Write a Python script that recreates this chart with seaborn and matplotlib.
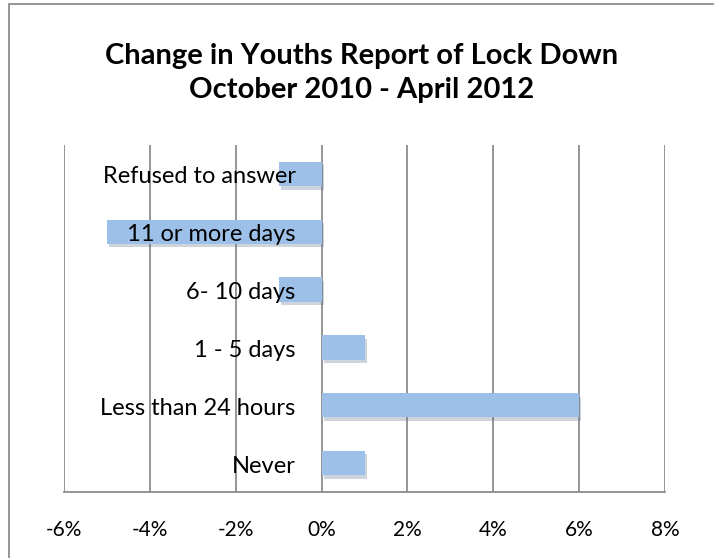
import matplotlib
matplotlib.use("Agg")
import matplotlib.pyplot as plt
import matplotlib.patheffects as pe
from matplotlib.transforms import offset_copy
from matplotlib.patches import Rectangle
from matplotlib.ticker import FuncFormatter
import seaborn as sns
import pandas as pd

categories = ["Refused to answer", "11 or more days", "6- 10 days",
              "1 - 5 days", "Less than 24 hours", "Never"]
changes = [-1, -5, -1, 1, 6, 1]
x_ticks = [-6, -4, -2, 0, 2, 4, 6, 8]
title = "Change in Youths Report of Lock Down\nOctober 2010 - April 2012"

sns.set_theme(style="white")
plt.rcParams['font.family'] = ['Lato', 'DejaVu Sans']

W, H = 714, 558
fig = plt.figure(figsize=(W / 100, H / 100), dpi=100)
ax = fig.add_axes([64 / W, 1 - 492 / H, (665 - 64) / W, (492 - 145) / H])

df = pd.DataFrame({"cat": categories, "val": changes})
sns.barplot(data=df, x="val", y="cat", orient="h", color="#9DC0E8",
            saturation=1, width=0.42, ax=ax, zorder=2)

for p in ax.patches:
    p.set_path_effects([pe.SimplePatchShadow(offset=(1.5, -2.5), alpha=0.3, rho=0.6),
                        pe.Normal()])
    p.set_edgecolor("none")

ax.set_xlim(-6, 8)
ax.set_ylim(5.5, -0.5)
ax.set_xticks(x_ticks)
ax.xaxis.set_major_formatter(FuncFormatter(lambda v, _: f"{int(v)}%"))
ax.set_yticks([])
ax.set_xlabel("")
ax.set_ylabel("")
ax.set_axisbelow(True)
ax.grid(axis="x", color="#8c8c8c", linewidth=1.3)
ax.grid(axis="y", visible=False)
for s in ["top", "right", "left"]:
    ax.spines[s].set_visible(False)
ax.spines["bottom"].set_color("#8c8c8c")
ax.spines["bottom"].set_linewidth(1.3)
ax.tick_params(axis="x", length=0, pad=20, labelsize=15, labelcolor="black")

tr = offset_copy(ax.transData, fig=fig, x=-26, y=-3, units="dots")
for i, c in enumerate(categories):
    ax.text(0, i, c, transform=tr, ha="right", va="center", fontsize=17,
            color="black", zorder=5)

fig.text(0.5 * (107 + 617) / W, 1 - 73 / H, title, ha="center", va="center",
         fontsize=21, fontweight="bold", color="black", linespacing=1.35)

fig.patches.append(Rectangle((8.5 / W, -0.1), 1.2, (1 - 3.5 / H) + 0.1,
                             transform=fig.transFigure, fill=False,
                             edgecolor="#8c8c8c", linewidth=1.3))

fig.savefig("out.png", dpi=100)
